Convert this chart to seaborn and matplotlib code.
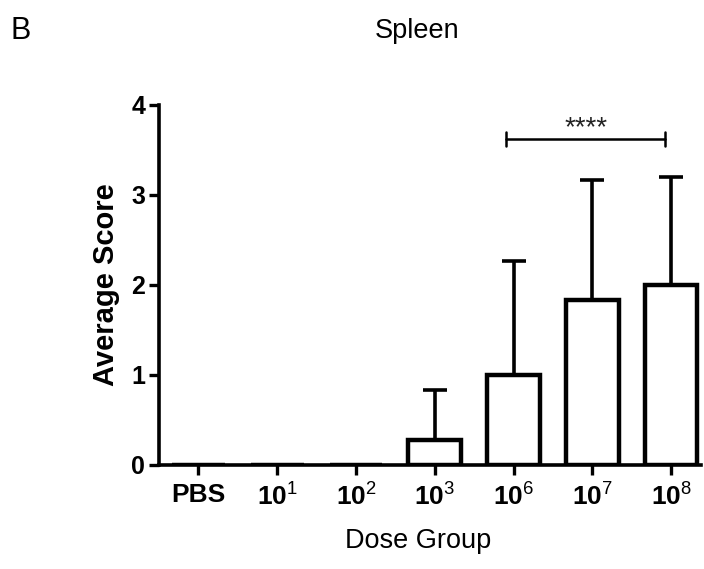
import numpy as np
import pandas as pd
import matplotlib
matplotlib.use("Agg")
import matplotlib.pyplot as plt
import seaborn as sns

# ---- data ----
groups = ["PBS", "1e1", "1e2", "1e3", "1e6", "1e7", "1e8"]
tick_labels = ["PBS", "10$^{\\mathrm{1}}$", "10$^{\\mathrm{2}}$", "10$^{\\mathrm{3}}$",
               "10$^{\\mathrm{6}}$", "10$^{\\mathrm{7}}$", "10$^{\\mathrm{8}}$"]
means = [0.0, 0.0, 0.0, 0.28, 1.0, 1.83, 2.0]
sd_upper = [0.0, 0.0, 0.0, 0.55, 1.27, 1.34, 1.2]
sig_from, sig_to = 4, 6
sig_y = 3.62
sig_text = "****"

sns.set_theme(style="ticks")
plt.rcParams["font.family"] = ["Liberation Sans", "DejaVu Sans"]
plt.rcParams["text.color"] = "black"
plt.rcParams["axes.labelcolor"] = "black"
plt.rcParams["xtick.color"] = "black"
plt.rcParams["ytick.color"] = "black"
plt.rcParams["mathtext.fontset"] = "custom"
plt.rcParams["mathtext.rm"] = "Liberation Sans"
plt.rcParams["mathtext.it"] = "Liberation Sans:italic"
plt.rcParams["mathtext.bf"] = "Liberation Sans:bold"

fig = plt.figure(figsize=(7.04, 5.69), dpi=100)
ax = fig.add_axes([159/704, 1-465/569, (701-159)/704, (465-105)/569])

df = pd.DataFrame({"group": groups, "mean": means})
sns.barplot(data=df, x="group", y="mean", color="white", edgecolor="black",
            linewidth=3.2, width=0.67, ax=ax, errorbar=None, saturation=1)

idx = [i for i, s in enumerate(sd_upper) if s > 0]
ax.errorbar([i for i in idx], [means[i] for i in idx],
            yerr=[[0]*len(idx), [sd_upper[i] for i in idx]],
            fmt="none", ecolor="black", elinewidth=2.6, capsize=8.5, capthick=2.6, zorder=1)

# significance bracket
x0, x1 = sig_from - 0.09, sig_to - 0.08
ax.plot([x0, x1], [sig_y, sig_y], color="black", lw=1.8, clip_on=False)
for xx in (x0, x1):
    ax.plot([xx, xx], [sig_y - 0.08, sig_y + 0.08], color="black", lw=1.8, clip_on=False)
ax.text((x0 + x1) / 2, sig_y + 0.04, sig_text, ha="center", va="baseline",
        fontsize=20, color="#222222")

ax.set_xlim(-0.5, 6.38)
ax.set_ylim(0, 4)
ax.set_yticks([0, 1, 2, 3, 4])
ax.set_xticks(range(len(groups)))
ax.set_xticklabels(tick_labels, fontsize=19, fontweight="bold")
for t in ax.get_yticklabels():
    t.set_fontsize(18)
    t.set_fontweight("bold")
ax.tick_params(axis="both", direction="out", length=7, width=2.4, color="black", pad=3)
ax.tick_params(axis="x", pad=6)
for side in ("top", "right"):
    ax.spines[side].set_visible(False)
for side in ("left", "bottom"):
    ax.spines[side].set_linewidth(2.6)
    ax.spines[side].set_color("black")

ax.set_xlabel("")
ax.set_ylabel("Average Score", fontsize=21, fontweight="bold", labelpad=8)
fig.text(418/704, 1-541/569, "Dose Group", ha="center", va="center", fontsize=19.5)
fig.text(417/704, 1-31/569, "Spleen", ha="center", va="center", fontsize=19.5)
fig.text(21/704, 1-31/569, "B", ha="center", va="center", fontsize=22)

fig.savefig("out.png", dpi=100, facecolor="white")
